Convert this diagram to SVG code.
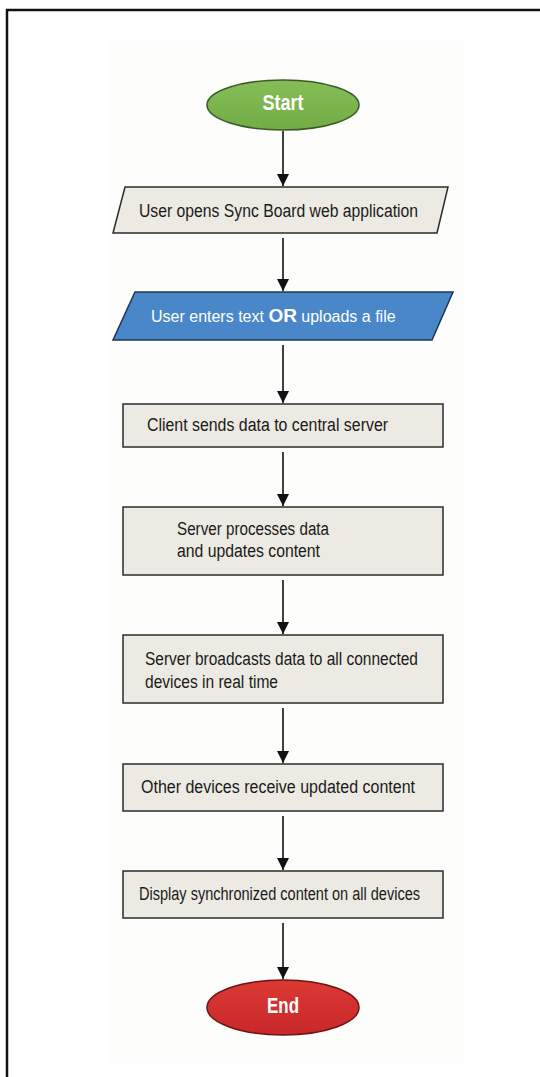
<svg xmlns="http://www.w3.org/2000/svg" width="540" height="1077" viewBox="0 0 540 1077">
  <defs>
    <marker id="arrow" viewBox="0 0 12 12" refX="12" refY="6" markerWidth="12" markerHeight="12" markerUnits="userSpaceOnUse" orient="auto">
      <path d="M0,0 L12,6 L0,12 Z" fill="#111"/>
    </marker>
    <linearGradient id="gGreen" x1="0" y1="0" x2="0" y2="1">
      <stop offset="0" stop-color="#86bd56"/>
      <stop offset="1" stop-color="#72ac44"/>
    </linearGradient>
    <linearGradient id="gRed" x1="0" y1="0" x2="0" y2="1">
      <stop offset="0" stop-color="#dc3a33"/>
      <stop offset="1" stop-color="#c8272a"/>
    </linearGradient>
  </defs>
  <style>
    .box { fill: #eceae2; stroke: #2b2b2b; stroke-width: 1.5; }
    .io { fill: #4a87c9; stroke: #1f3552; stroke-width: 1.5; }
    .lbl { font-family: "Liberation Sans", Arial, sans-serif; font-size: 18px; fill: #1a1a1a; }
    .wht { fill: #ffffff; font-size: 16px; }
    .term { font-family: "Liberation Sans", Arial, sans-serif; font-size: 22px; font-weight: bold; fill: #ffffff; text-anchor: middle; }
    .conn { stroke: #111; stroke-width: 1.6; fill: none; marker-end: url(#arrow); }
  </style>
  <rect x="0" y="0" width="540" height="1077" fill="#ffffff"/>
  <rect x="108" y="40" width="357" height="1025" fill="#fdfdfc"/>
  <path d="M7,1077 V10 H540" fill="none" stroke="#111" stroke-width="2.5"/>

  <g id="connectors">
    <line class="conn" x1="283" y1="131" x2="283" y2="186"/>
    <line class="conn" x1="283" y1="238" x2="283" y2="291"/>
    <line class="conn" x1="283" y1="345" x2="283" y2="403"/>
    <line class="conn" x1="283" y1="452" x2="283" y2="506"/>
    <line class="conn" x1="283" y1="580" x2="283" y2="634"/>
    <line class="conn" x1="283" y1="708" x2="283" y2="763"/>
    <line class="conn" x1="283" y1="816" x2="283" y2="870"/>
    <line class="conn" x1="283" y1="923" x2="283" y2="979"/>
  </g>

  <g id="start">
    <ellipse cx="283" cy="105" rx="76" ry="25" fill="url(#gGreen)" stroke="#3b5a28" stroke-width="1.5"/>
    <text class="term" x="283" y="110" textLength="41" lengthAdjust="spacingAndGlyphs">Start</text>
  </g>

  <g id="open-app">
    <polygon class="box" points="125,187 448,187 437,233 113,233"/>
    <text class="lbl" x="139" y="217" textLength="279" lengthAdjust="spacingAndGlyphs">User opens Sync Board web application</text>
  </g>

  <g id="enter-input">
    <polygon class="io" points="135,292 453,292 432,340 113,340"/>
    <text class="lbl wht" x="151" y="322">User enters text <tspan font-weight="bold" font-size="19">OR</tspan> uploads a file</text>
  </g>

  <g id="client-send">
    <rect class="box" x="123" y="404" width="320" height="43"/>
    <text class="lbl" x="147" y="431" textLength="241" lengthAdjust="spacingAndGlyphs">Client sends data to central server</text>
  </g>

  <g id="server-process">
    <rect class="box" x="123" y="507" width="320" height="68"/>
    <text class="lbl" x="177" y="535" textLength="152" lengthAdjust="spacingAndGlyphs">Server processes data</text>
    <text class="lbl" x="177" y="557" textLength="143" lengthAdjust="spacingAndGlyphs">and updates content</text>
  </g>

  <g id="server-broadcast">
    <rect class="box" x="123" y="635" width="320" height="68"/>
    <text class="lbl" x="145" y="665" textLength="273" lengthAdjust="spacingAndGlyphs">Server broadcasts data to all connected</text>
    <text class="lbl" x="145" y="688" textLength="133" lengthAdjust="spacingAndGlyphs">devices in real time</text>
  </g>

  <g id="devices-receive">
    <rect class="box" x="123" y="764" width="320" height="47"/>
    <text class="lbl" x="141" y="793" textLength="274" lengthAdjust="spacingAndGlyphs">Other devices receive updated content</text>
  </g>

  <g id="display-content">
    <rect class="box" x="123" y="871" width="320" height="47"/>
    <text class="lbl" x="139" y="900" textLength="281" lengthAdjust="spacingAndGlyphs">Display synchronized content on all devices</text>
  </g>

  <g id="end">
    <ellipse cx="283" cy="1007.5" rx="76" ry="27.5" fill="url(#gRed)" stroke="#6e1414" stroke-width="1.5"/>
    <text class="term" x="283" y="1013" textLength="32" lengthAdjust="spacingAndGlyphs">End</text>
  </g>
</svg>
